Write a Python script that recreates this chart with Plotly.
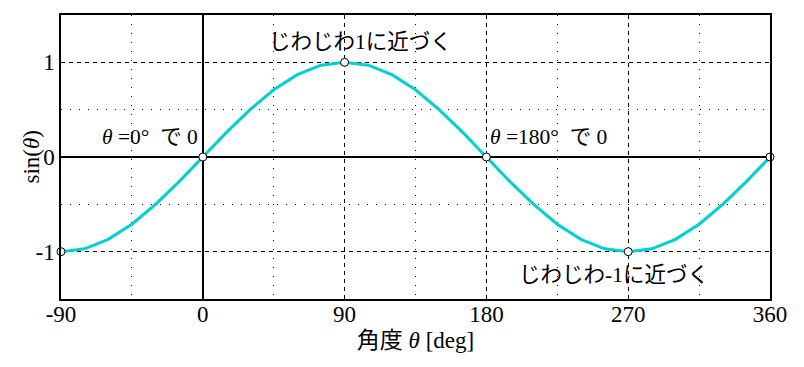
import plotly.graph_objects as go

# data: angle (deg) and sin values
theta = [-90, -75, -60, -45, -30, -15, 0, 15, 30, 45, 60, 75, 90, 105, 120, 135,
         150, 165, 180, 195, 210, 225, 240, 255, 270, 285, 300, 315, 330, 345, 360]
sin_vals = [-1.0, -0.97, -0.87, -0.71, -0.5, -0.26, 0.0, 0.26, 0.5, 0.71, 0.87, 0.97, 1.0,
            0.97, 0.87, 0.71, 0.5, 0.26, 0.0, -0.26, -0.5, -0.71, -0.87, -0.97, -1.0,
            -0.97, -0.87, -0.71, -0.5, -0.26, 0.0]
mark_x = [-90, 0, 90, 180, 270, 360]
mark_y = [-1, 0, 1, 0, -1, 0]
x_ticks = [-90, 0, 90, 180, 270, 360]
y_ticks = [-1, 0, 1]

FONT = "Liberation Serif, Times New Roman, Noto Sans CJK JP, serif"

fig = go.Figure()
fig.add_trace(go.Scatter(x=theta, y=sin_vals, mode="lines",
                         line=dict(color="#00D0D6", width=3), hoverinfo="skip"))
fig.add_trace(go.Scatter(x=mark_x, y=mark_y, mode="markers",
                         marker=dict(size=8, color="white", line=dict(color="black", width=1)),
                         cliponaxis=False))

ann = [
    dict(x=100, y=1.22, text="じわじわ1に近づく", xanchor="center"),
    dict(x=-2, y=0.21, text="<i>θ</i> =0°\u00a0 で 0", xanchor="right"),
    dict(x=181, y=0.21, text="<i>θ</i> =180°\u00a0 で 0", xanchor="left"),
    dict(x=261, y=-1.25, text="じわじわ-1に近づく", xanchor="center"),
]
for a in ann:
    fig.add_annotation(**a, yanchor="middle", showarrow=False,
                       font=dict(family=FONT, size=21.5, color="black"))

# y-axis title as a rotated annotation
fig.add_annotation(text="sin(<i>θ</i>)", xref="paper", yref="paper", x=-0.043, y=0.5,
                   xanchor="center", yanchor="middle", textangle=-90, showarrow=False,
                   font=dict(family=FONT, size=23, color="black"))

fig.update_layout(
    width=804, height=367,
    margin=dict(l=61, r=34, t=15, b=68),
    paper_bgcolor="white", plot_bgcolor="white",
    showlegend=False,
    font=dict(family=FONT, size=22, color="black"),
)
fig.update_xaxes(
    range=[-90, 360], tickvals=x_ticks, ticktext=[str(v) for v in x_ticks],
    showgrid=True, gridcolor="black", gridwidth=1, griddash="4px,4px",
    minor=dict(tickvals=[-45, 45, 135, 225, 315], showgrid=True, gridcolor="black",
               gridwidth=1, griddash="1px,8px"),
    zeroline=True, zerolinecolor="black", zerolinewidth=2,
    showline=True, linecolor="black", linewidth=1.5, mirror=True,
    ticks="", ticklen=0, ticklabelstandoff=-6,
    title=dict(text="角度 <i>θ</i> [deg]", standoff=6, font=dict(size=23)),
    tickfont=dict(size=23),
)
fig.update_yaxes(
    range=[-1.5, 1.5], tickvals=y_ticks, ticktext=["-1", "0", "1"],
    showgrid=True, gridcolor="black", gridwidth=1, griddash="4px,4px",
    minor=dict(tickvals=[-0.5, 0.5], showgrid=True, gridcolor="black",
               gridwidth=1, griddash="1px,8px"),
    zeroline=True, zerolinecolor="black", zerolinewidth=2,
    showline=True, linecolor="black", linewidth=1.5, mirror=True,
    ticks="", ticklen=0,
    tickfont=dict(size=23),
)

fig.write_html("out.html", config={"displayModeBar": False},
               post_script="document.body.style.margin='0';")
